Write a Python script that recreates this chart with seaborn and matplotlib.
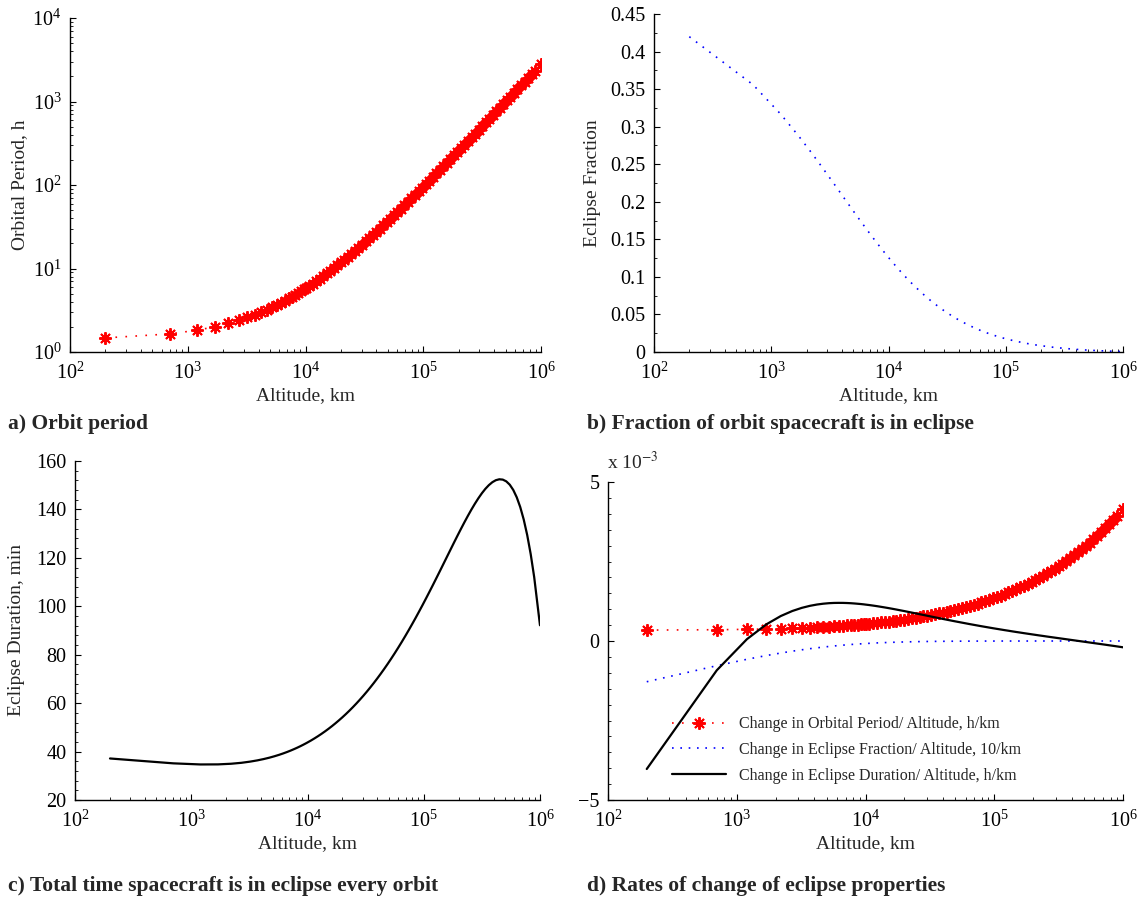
import numpy as np
import matplotlib
matplotlib.use("Agg")
import matplotlib.pyplot as plt
import seaborn as sns
from matplotlib.ticker import (AutoMinorLocator, FixedLocator, LogLocator,
                               NullFormatter, MultipleLocator, FuncFormatter)

# ---------------- data ----------------
altitude_km = [200, 700, 1200, 1700, 2200, 2700, 3200, 3700, 4200, 4700, 5200, 5700, 6200, 6700, 7200, 7700, 8200, 8700,
               9200, 9700, 10000, 10715, 11482, 12303, 13183, 14125, 15136, 16218, 17378, 18621, 19953, 21380, 22909, 24547, 26303, 28184,
               30200, 32359, 34674, 37154, 39811, 42658, 45709, 48978, 52481, 56234, 60256, 64565, 69183, 74131, 79433, 85114, 91201, 97724,
               104713, 112202, 120226, 128825, 138038, 147911, 158489, 169824, 181970, 194984, 208930, 223872, 239883, 257040, 275423, 295121, 316228, 338844,
               363078, 389045, 416869, 446684, 478630, 512861, 549541, 588844, 630957, 676083, 724436, 776247, 831764, 891251, 999700]

period_h = [1.475, 1.646, 1.824, 2.007, 2.196, 2.391, 2.591, 2.797, 3.008, 3.223, 3.444, 3.669, 3.9, 4.134, 4.374, 4.618, 4.866, 5.118,
            5.375, 5.636, 5.794, 6.178, 6.598, 7.058, 7.563, 8.116, 8.723, 9.39, 10.12, 10.93, 11.81, 12.78, 13.86, 15.03, 16.33, 17.76,
            19.34, 21.08, 22.99, 25.11, 27.44, 30.02, 32.86, 36.0, 39.48, 43.31, 47.55, 52.24, 57.42, 63.15, 69.49, 76.5, 84.26, 92.85,
            102.4, 112.9, 124.5, 137.4, 151.7, 167.5, 185.1, 204.5, 226.0, 249.8, 276.2, 305.4, 337.8, 373.7, 413.5, 457.7, 506.5, 560.7,
            620.8, 687.4, 761.2, 843.0, 933.8, 1034, 1146, 1269, 1407, 1559, 1727, 1914, 2121, 2351, 2790]

eclipse_fraction = [0.4198, 0.3558, 0.3169, 0.2882, 0.2654, 0.2465, 0.2305, 0.2167, 0.2045, 0.1938, 0.1842, 0.1756, 0.1678, 0.1607, 0.1542, 0.1482, 0.1427, 0.1376,
                    0.1328, 0.1284, 0.1259, 0.1202, 0.1148, 0.1094, 0.1043, 0.0992, 0.0943, 0.0896, 0.0851, 0.0807, 0.0764, 0.0723, 0.0684, 0.0647, 0.0611, 0.0576,
                    0.0543, 0.0512, 0.0482, 0.0453, 0.0426, 0.0401, 0.0376, 0.0353, 0.0331, 0.0310, 0.0290, 0.0272, 0.0254, 0.0238, 0.0222, 0.0207, 0.0194, 0.0180,
                    0.0168, 0.0157, 0.0146, 0.0136, 0.0126, 0.0117, 0.0108, 0.0101, 0.0093, 0.0086, 0.0080, 0.0074, 0.0068, 0.0062, 0.0057, 0.0053, 0.0048, 0.0044,
                    0.0040, 0.0037, 0.0033, 0.0030, 0.0027, 0.0024, 0.0022, 0.0019, 0.0017, 0.0015, 0.0013, 0.0011, 0.0010, 0.0008, 0.0006]

eclipse_duration_min = [37.15, 35.14, 34.68, 34.71, 34.97, 35.36, 35.84, 36.36, 36.91, 37.48, 38.07, 38.66, 39.26, 39.86, 40.46, 41.06, 41.65, 42.24,
                        42.83, 43.41, 43.76, 44.57, 45.44, 46.35, 47.31, 48.32, 49.38, 50.49, 51.66, 52.88, 54.15, 55.48, 56.87, 58.32, 59.83, 61.40,
                        63.03, 64.72, 66.48, 68.30, 70.19, 72.14, 74.15, 76.23, 78.38, 80.59, 82.87, 85.21, 87.62, 90.09, 92.62, 95.20, 97.85, 100.54,
                        103.29, 106.08, 108.90, 111.77, 114.65, 117.56, 120.47, 123.38, 126.28, 129.14, 131.96, 134.71, 137.38, 139.94, 142.36, 144.62, 146.68, 148.50,
                        150.03, 151.24, 152.07, 152.45, 152.31, 151.59, 150.20, 148.04, 145.00, 140.97, 135.82, 129.40, 121.54, 112.06, 92.16]

# rates of change, in units of 1e-3
rate_period_e3 = [0.343, 0.355, 0.367, 0.378, 0.390, 0.400, 0.411, 0.421, 0.431, 0.441, 0.451, 0.460, 0.470, 0.479, 0.488, 0.496, 0.505, 0.513,
                  0.522, 0.530, 0.535, 0.546, 0.558, 0.571, 0.584, 0.597, 0.612, 0.627, 0.642, 0.659, 0.676, 0.694, 0.713, 0.732, 0.752, 0.774,
                  0.796, 0.819, 0.843, 0.868, 0.894, 0.921, 0.949, 0.978, 1.008, 1.040, 1.072, 1.106, 1.142, 1.178, 1.216, 1.256, 1.297, 1.340,
                  1.384, 1.429, 1.477, 1.526, 1.577, 1.630, 1.685, 1.742, 1.801, 1.862, 1.925, 1.991, 2.059, 2.129, 2.202, 2.278, 2.356, 2.437,
                  2.521, 2.608, 2.699, 2.792, 2.889, 2.989, 3.092, 3.200, 3.311, 3.426, 3.545, 3.669, 3.797, 3.929, 4.160]

rate_fraction_e3 = [-1.281, -0.777, -0.575, -0.457, -0.378, -0.320, -0.277, -0.242, -0.214, -0.192, -0.172, -0.156, -0.142, -0.130, -0.120, -0.110, -0.102, -0.095,
                    -0.089, -0.083, -0.080, -0.073, -0.066, -0.060, -0.055, -0.050, -0.045, -0.041, -0.037, -0.033, -0.030, -0.027, -0.024, -0.021, -0.019, -0.017,
                    -0.015, -0.014, -0.012, -0.011, -0.010, -0.008, -0.007, -0.007, -0.006, -0.005, -0.005, -0.004, -0.004, -0.003, -0.003, -0.002, -0.002, -0.002,
                    -0.002, -0.001, -0.001, -0.001, -0.001, -0.001, -0.001, -0.001, -0.001, 0.0, 0.0, 0.0, 0.0, 0.0, 0.0, 0.0, 0.0, 0.0,
                    0.0, 0.0, 0.0, 0.0, 0.0, 0.0, 0.0, 0.0, 0.0, 0.0, 0.0, 0.0, 0.0, 0.0, 0.0]

rate_duration_e3 = [-4.025, -0.920, 0.058, 0.525, 0.786, 0.943, 1.042, 1.106, 1.147, 1.173, 1.189, 1.197, 1.199, 1.198, 1.194, 1.188, 1.180, 1.171,
                    1.162, 1.152, 1.145, 1.130, 1.113, 1.095, 1.075, 1.055, 1.034, 1.012, 0.989, 0.965, 0.942, 0.917, 0.893, 0.868, 0.843, 0.819,
                    0.794, 0.769, 0.744, 0.720, 0.695, 0.671, 0.647, 0.623, 0.600, 0.577, 0.554, 0.531, 0.509, 0.487, 0.465, 0.444, 0.423, 0.402,
                    0.382, 0.362, 0.342, 0.323, 0.303, 0.284, 0.266, 0.247, 0.229, 0.211, 0.193, 0.175, 0.158, 0.140, 0.123, 0.106, 0.089, 0.072,
                    0.055, 0.038, 0.021, 0.004, -0.013, -0.030, -0.047, -0.064, -0.081, -0.098, -0.115, -0.133, -0.150, -0.168, -0.198]

legend_labels = ["Change in Orbital Period/ Altitude, h/km",
                 "Change in Eclipse Fraction/ Altitude, 10/km",
                 "Change in Eclipse Duration/ Altitude, h/km"]
panel_titles = ["a) Orbit period", "b) Fraction of orbit spacecraft is in eclipse",
                "c) Total time spacecraft is in eclipse every orbit", "d) Rates of change of eclipse properties"]

# ---------------- style ----------------
sns.set_theme(style="ticks", rc={
    "xtick.direction": "in", "ytick.direction": "in",
    "xtick.major.size": 4, "ytick.major.size": 4,
    "xtick.minor.size": 2, "ytick.minor.size": 2,
    "xtick.major.width": 0.8, "ytick.major.width": 0.8,
    "xtick.minor.width": 0.6, "ytick.minor.width": 0.6,
    "xtick.major.pad": 7.5, "ytick.major.pad": 6,
    "axes.linewidth": 1.0, "axes.edgecolor": "black",
    "xtick.color": "black", "ytick.color": "black",
    "xtick.labelsize": 14.5, "ytick.labelsize": 14.5,
    "axes.labelsize": 14,
})
plt.rcParams["font.family"] = ["Liberation Serif", "DejaVu Serif"]
plt.rcParams["mathtext.fontset"] = "stix"
plt.rcParams["axes.unicode_minus"] = True

W, H = 1141, 899
fig = plt.figure(figsize=(W / 100, H / 100), dpi=100)

def axes_px(left, right, top, bottom):
    return fig.add_axes([left / W, 1 - bottom / H, (right - left) / W, (bottom - top) / H])

ax_a = axes_px(70, 541, 18, 352)
ax_b = axes_px(654, 1123, 14, 352)
ax_c = axes_px(75, 540, 461, 800)
ax_d = axes_px(608, 1123, 482, 800)

star = (8, 2, 0)
red_dots = (0, (1, 5))
blue_dots = (0, (1, 4))

# a) orbit period
sns.lineplot(x=altitude_km, y=period_h, ax=ax_a, color="red", marker=star, markersize=9,
             mew=1.4, mec="red", linestyle=red_dots, linewidth=1.2, estimator=None, sort=False)
ax_a.set_yscale("log")
ax_a.set_ylim(1, 1e4)
ax_a.set_ylabel("Orbital Period, h")

# b) eclipse fraction
sns.lineplot(x=altitude_km, y=eclipse_fraction, ax=ax_b, color="blue", linestyle=blue_dots,
             linewidth=1.2, estimator=None, sort=False)
ax_b.set_ylim(0, 0.45)
ax_b.yaxis.set_major_locator(MultipleLocator(0.05))
ax_b.yaxis.set_minor_locator(AutoMinorLocator(2))
ax_b.yaxis.set_major_formatter(FuncFormatter(lambda v, p: "%g" % round(v, 3)))
ax_b.set_ylabel("Eclipse Fraction")

# c) eclipse duration
sns.lineplot(x=altitude_km, y=eclipse_duration_min, ax=ax_c, color="black", linewidth=1.6,
             estimator=None, sort=False)
ax_c.set_ylim(20, 160)
ax_c.yaxis.set_major_locator(MultipleLocator(20))
ax_c.yaxis.set_minor_locator(AutoMinorLocator(5))
ax_c.set_ylabel("Eclipse Duration, min")

# d) rates of change
sns.lineplot(x=altitude_km, y=rate_period_e3, ax=ax_d, color="red", marker=star, markersize=9,
             mew=1.4, mec="red", linestyle=red_dots, linewidth=1.2, estimator=None, sort=False,
             label=legend_labels[0])
sns.lineplot(x=altitude_km, y=rate_fraction_e3, ax=ax_d, color="blue", linestyle=blue_dots,
             linewidth=1.2, estimator=None, sort=False, label=legend_labels[1])
sns.lineplot(x=altitude_km, y=rate_duration_e3, ax=ax_d, color="black", linewidth=1.6,
             estimator=None, sort=False, label=legend_labels[2])
ax_d.set_ylim(-5, 5)
ax_d.yaxis.set_major_locator(FixedLocator([-5, 0, 5]))
ax_d.yaxis.set_minor_locator(MultipleLocator(0.5))
ax_d.yaxis.set_major_formatter(FuncFormatter(lambda v, p: ("\u2212%g" % -v) if v < 0 else "%g" % v))
ax_d.set_ylabel("")
ax_d.legend(frameon=False, loc="upper left", bbox_to_anchor=(0.124, 0.263), fontsize=11.5,
            handlelength=3.4, handletextpad=0.8, labelspacing=0.6, borderpad=0, borderaxespad=0)
fig.text(607 / W, 1 - 462 / H, r"x 10$^{-3}$", fontsize=14, va="center", ha="left")

for ax in (ax_a, ax_b, ax_c, ax_d):
    ax.set_xscale("log")
    ax.set_xlim(1e2, 1e6)
    ax.xaxis.set_major_locator(LogLocator(base=10, numticks=10))
    ax.xaxis.set_minor_locator(LogLocator(base=10, subs=np.arange(2, 10), numticks=20))
    ax.xaxis.set_minor_formatter(NullFormatter())
    ax.set_xlabel("Altitude, km")
    sns.despine(ax=ax)

ax_a.xaxis.set_label_coords(0.5, (352 - 387) / 334)
ax_b.xaxis.set_label_coords(0.5, (352 - 387) / 338)
ax_c.xaxis.set_label_coords(0.5, (800 - 835) / 339)
ax_d.xaxis.set_label_coords(0.5, (800 - 835) / 318)
ax_a.yaxis.set_label_coords((28 - 70) / 471, 0.5)
ax_b.yaxis.set_label_coords((601 - 654) / 469, 0.5)
ax_c.yaxis.set_label_coords((25 - 75) / 465, 0.5)

for (x, y), t in zip([(8, 424), (587, 424), (8, 886), (587, 886)], panel_titles):
    fig.text(x / W, 1 - y / H, t, fontsize=15.5, fontweight="bold", va="center", ha="left")

fig.savefig("out.png", dpi=100)
